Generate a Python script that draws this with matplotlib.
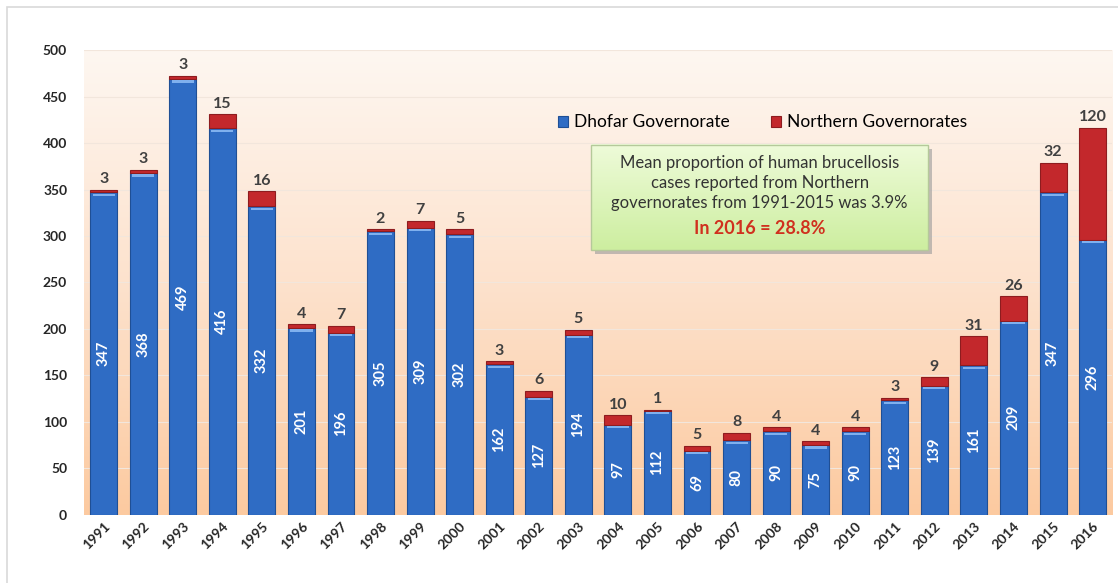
import numpy as np
import matplotlib
matplotlib.use("Agg")
from matplotlib import pyplot as plt
from matplotlib.patches import Rectangle, FancyBboxPatch
from matplotlib.colors import LinearSegmentedColormap

years = [str(y) for y in range(1991, 2017)]
dhofar = [347, 368, 469, 416, 332, 201, 196, 305, 309, 302, 162, 127, 194,
          97, 112, 69, 80, 90, 75, 90, 123, 139, 161, 209, 347, 296]
northern = [3, 3, 3, 15, 16, 4, 7, 2, 7, 5, 3, 6, 5,
            10, 1, 5, 8, 4, 4, 4, 3, 9, 31, 26, 32, 120]
yticks = [0, 50, 100, 150, 200, 250, 300, 350, 400, 450, 500]

plt.rcParams['font.family'] = ['Lato', 'DejaVu Sans']

blue = '#2f6cc4'
red = '#c3282c'

fig = plt.figure(figsize=(11.18, 5.83), dpi=100)
# light frame around the chart
fig.patches.append(Rectangle((7 / 1118, -0.05), 1.2, 1 - 7 / 583 + 0.05,
                             transform=fig.transFigure, fill=False,
                             edgecolor='#d9d9d9', lw=1.2))

ax = fig.add_axes([0.075, 0.117, 0.92, 0.797])
x = np.arange(len(years))

# background gradient in plot area
grad = LinearSegmentedColormap.from_list('bg', ['#fccaa0', '#fde2cd', '#fef7f1'])
ax.imshow(np.linspace(0, 1, 256).reshape(-1, 1), cmap=grad, origin='lower',
          aspect='auto', extent=[0, 1, 0, 1], transform=ax.transAxes, zorder=0)

for t in yticks[1:]:
    ax.axhline(t, color='#f2e6dc', lw=0.8, zorder=1)

w = 0.68
ax.bar(x, dhofar, width=w, color=blue, edgecolor='#1f4f95', lw=0.8, zorder=3,
       label='Dhofar Governorate')
ax.bar(x, northern, width=w, bottom=dhofar, color=red, edgecolor='#8e1c1f',
       lw=0.8, zorder=3, label='Northern Governorates')
# small highlight stripe at top of the blue segment
for i in range(len(x)):
    ax.add_patch(Rectangle((x[i] - w / 2 + 0.06, dhofar[i] - 4), w - 0.12, 2.5,
                           color='#7fb0ee', lw=0, zorder=4))
    ax.text(x[i], dhofar[i] / 2, str(dhofar[i]), rotation=90, ha='center',
            va='center', color='white', fontsize=10.5, fontweight='bold', zorder=5)
    ax.text(x[i], dhofar[i] + northern[i] + 4, str(northern[i]), ha='center',
            va='bottom', color='#404040', fontsize=11.5, fontweight='bold', zorder=5)

ax.set_xlim(-0.5, 25.5)
ax.set_ylim(0, 500)
ax.set_yticks(yticks)
ax.set_xticks(x)
ax.set_xticklabels(years, rotation=45, ha='right', rotation_mode='anchor')
ax.tick_params(axis='both', length=0, labelsize=10, colors='#262626')
ax.tick_params(axis='y', pad=12)
for lab in ax.get_xticklabels() + ax.get_yticklabels():
    lab.set_fontweight('bold')
for s in ax.spines.values():
    s.set_visible(False)

ax.legend(loc='center left', bbox_to_anchor=(0.461, 0.845), ncol=2, frameon=False,
          fontsize=12.5, handlelength=0.6, handleheight=0.6, columnspacing=2.4,
          handletextpad=0.3, borderpad=0, borderaxespad=0)

# annotation box
bx0, by0, bw, bh = 0.493, 0.57, 0.328, 0.226
ax.add_patch(FancyBboxPatch((bx0 + 0.004, by0 - 0.008), bw, bh,
                            boxstyle='square,pad=0', transform=ax.transAxes,
                            facecolor='#9a9a9a', edgecolor='none', alpha=0.6, zorder=6))
boxgrad = LinearSegmentedColormap.from_list('box', ['#cdeea0', '#eefbd9'])
ax.imshow(np.linspace(0, 1, 64).reshape(-1, 1), cmap=boxgrad, origin='lower',
          aspect='auto', extent=[bx0, bx0 + bw, by0, by0 + bh],
          transform=ax.transAxes, zorder=7)
ax.add_patch(Rectangle((bx0, by0), bw, bh, transform=ax.transAxes, fill=False,
                       edgecolor='#b5c99a', lw=1, zorder=8))
ax.text(bx0 + bw / 2, by0 + bh - 0.022,
        'Mean proportion of human brucellosis\ncases reported from Northern\n'
        'governorates from 1991-2015 was 3.9%',
        transform=ax.transAxes, ha='center', va='top', fontsize=12,
        color='#333333', linespacing=1.3, zorder=9)
ax.text(bx0 + bw / 2, by0 + 0.027, 'In 2016 = 28.8%', transform=ax.transAxes,
        ha='center', va='bottom', fontsize=13, fontweight='bold',
        color='#d0301e', zorder=9)

fig.savefig('out.png', dpi=100)
